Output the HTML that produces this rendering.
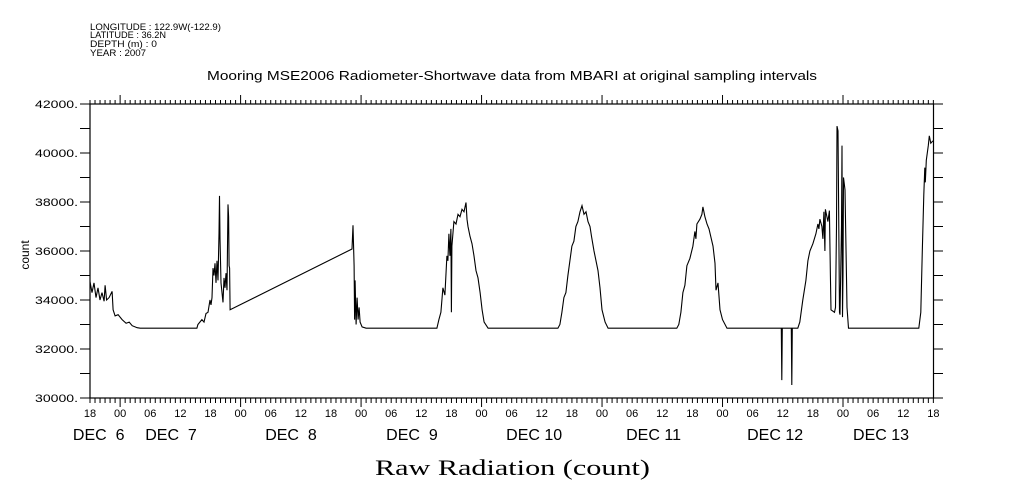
<!DOCTYPE html>
<html><head><meta charset="utf-8"><style>
body{margin:0;background:#fff;}
svg{display:block;font-family:"Liberation Sans",sans-serif;}
text{fill:#000;}
</style></head><body>
<svg width="1009" height="504" viewBox="0 0 1009 504">
<g font-size="9">
<text x="90" y="30" textLength="131" lengthAdjust="spacingAndGlyphs">LONGITUDE : 122.9W(-122.9)</text>
<text x="90" y="38" textLength="76" lengthAdjust="spacingAndGlyphs">LATITUDE : 36.2N</text>
<text x="90" y="47" textLength="67" lengthAdjust="spacingAndGlyphs">DEPTH (m) : 0</text>
<text x="90" y="56" textLength="56" lengthAdjust="spacingAndGlyphs">YEAR : 2007</text>
</g>
<text x="207" y="80" textLength="610" lengthAdjust="spacingAndGlyphs" font-size="13">Mooring MSE2006 Radiometer-Shortwave data from MBARI at original sampling intervals</text>
<text x="375" y="475" textLength="275" lengthAdjust="spacingAndGlyphs" font-size="22" font-family="Liberation Serif, serif">Raw Radiation (count)</text>
<text transform="translate(29,255) rotate(-90)" text-anchor="middle" font-size="12">count</text>
<rect x="90" y="104" width="843.5" height="294" fill="none" stroke="#000" stroke-width="1.2"/>
<g id="axes"></g>
<polyline id="series" fill="none" stroke="#000" stroke-width="1.1"/>
</svg>
<script>
const times=[0,0.4,0.8,1.2,1.6,2.0,2.4,2.8,3.0,3.3,3.8,4.4,4.6,5.0,5.6,6.4,7.2,7.8,8.4,9.4,10,21.3,21.5,22.3,22.7,23.1,23.5,23.9,24.1,24.3,24.5,24.7,24.9,25.1,25.3,25.5,25.7,25.8,25.9,26.1,26.3,26.5,26.7,26.9,27.1,27.3,27.5,27.6,27.7,27.8,27.9,52.2,52.4,52.6,52.7,52.8,53.0,53.2,53.4,53.6,53.8,54.2,55.0,69.1,69.5,69.9,70.3,70.7,71.1,71.3,71.5,71.7,71.9,72.0,72.1,72.5,72.9,73.3,73.7,74.1,74.5,74.9,75.1,75.3,75.7,76.1,76.5,76.9,77.3,77.7,78.1,78.5,79.3,93.2,93.6,94.0,94.4,94.8,95.2,95.6,96.0,96.4,96.8,97.2,97.6,98.0,98.4,98.8,99.2,99.6,99.9,100.4,101.2,101.6,102.0,102.6,103.2,116.9,117.3,117.7,118.1,118.5,118.9,119.5,120.1,120.5,120.7,120.9,121.5,121.9,122.1,122.5,122.9,123.3,124.1,124.5,124.7,125.1,125.5,126.0,126.9,137.7,137.8,137.9,139.7,139.8,139.9,141.0,141.4,142.0,142.6,143.0,143.4,144.0,144.6,145.0,145.2,145.4,145.8,146.0,146.2,146.4,146.5,147.0,147.3,147.5,147.6,148.3,148.5,148.7,148.8,149.0,149.3,149.4,149.7,149.8,149.9,150.0,150.1,150.4,150.8,151.1,165.1,165.5,165.8,166.1,166.3,166.4,166.6,167.0,167.2,167.5,167.9];
const values=[34750,34300,34700,34100,34500,34000,34300,33950,34600,34000,34100,34350,33600,33350,33400,33200,33050,33100,32950,32870,32850,32850,33000,33200,33100,33450,33500,34000,33800,34100,35300,35000,35500,34700,35600,34800,36700,38250,36500,34700,34300,33900,34900,34500,35100,34400,37900,37400,35400,35300,33600,36080,37050,35400,33200,34800,33000,34100,33200,33700,33100,32900,32850,32850,33200,33500,34500,34200,35800,35600,36700,35800,36900,33500,36200,37200,37100,37500,37400,37700,37600,37980,37300,37000,36600,36300,35800,35200,34900,34300,33600,33100,32850,32850,33000,33500,34100,34300,35000,35600,36200,36400,37000,37200,37600,37850,37500,37600,37200,37000,36600,36000,35200,34500,33600,33100,32850,32850,33000,33500,34300,34600,35400,35700,36200,36800,36500,37100,37300,37500,37800,37400,37100,36900,36200,35500,34400,34700,33600,33200,32850,32850,30730,32850,32850,30530,32850,32850,33100,34000,34800,35600,36000,36300,36700,37100,36900,37300,37000,36500,37600,36000,37700,37200,37650,35000,33600,33500,33700,37000,41100,40900,33500,33400,37000,40300,33300,35000,39000,38500,33700,32850,32850,33500,36000,38300,39400,38800,39700,40300,40700,40400,40500];
const yTicks=[30000,32000,34000,36000,38000,40000,42000];
const yTickLabels=["30000.","32000.","34000.","36000.","38000.","40000.","42000."];
const hourLabels=["18","00","06","12","18","00","06","12","18","00","06","12","18","00","06","12","18","00","06","12","18","00","06","12","18","00","06","12","18"];
const dayLabels=["DEC  6","DEC  7","DEC  8","DEC  9","DEC 10","DEC 11","DEC 12","DEC 13"];
const dayLabelHours=[-3.4,11,34.9,59,82.9,106.8,130.9,152];

const X=h=>90+h*5.02;
const Y=v=>398-(v-30000)*0.0245;
const NS='http://www.w3.org/2000/svg';
const g=document.getElementById('axes');
function mk(tag,attrs){const e=document.createElementNS(NS,tag);for(const k in attrs)e.setAttribute(k,attrs[k]);g.appendChild(e);return e;}
document.getElementById('series').setAttribute('points',times.map((t,i)=>X(t).toFixed(1)+','+Y(values[i]).toFixed(1)).join(' '));
for(let v=30000;v<=42000;v+=1000){
  const l=mk('line',{x1:80,x2:90,y1:Y(v),y2:Y(v),stroke:'#000'});
  
  
  const r=mk('line',{x1:933,x2:943,y1:Y(v),y2:Y(v),stroke:'#000'});
  
  
}
yTicks.forEach((v,i)=>{
  const t=mk('text',{x:35,y:Y(v)+4,'font-size':'11',textLength:'43',lengthAdjust:'spacingAndGlyphs'});
  t.textContent=yTickLabels[i];
  
  
});
for(let h=0;h<=168;h++){
  const major=((h+18)%24===0);
  const len=major?9:4;
  const a=mk('line',{x1:X(h),x2:X(h),y1:104,y2:104-len,stroke:'#000'});
  
  
  const b=mk('line',{x1:X(h),x2:X(h),y1:398,y2:398+(major?9:5),stroke:'#000'});
  
  
}
hourLabels.forEach((s,i)=>{
  const t=mk('text',{x:X(i*6),y:417,'text-anchor':'middle','font-size':'11'});
  t.textContent=s;
  
  
});
dayLabels.forEach((s,i)=>{
  const t=mk('text',{x:X(dayLabelHours[i]),y:440,'font-size':'16'});
  t.setAttribute('xml:space','preserve');
  t.style.whiteSpace='pre';
  t.textContent=s;
  
  
});
</script>
</body></html>
